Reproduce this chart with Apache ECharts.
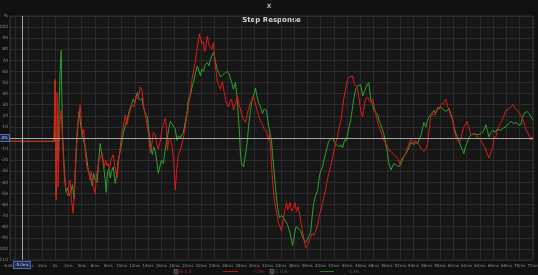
<!DOCTYPE html>
<html><head><meta charset="utf-8">
<script src="https://cdn.jsdelivr.net/npm/echarts@6/dist/echarts.min.js"></script>
<style>html,body{margin:0;padding:0;background:#111111;}#c{width:538px;height:275px;}</style>
</head><body><div id="c"></div>
<script>
// time (ms), value (%)
const redSeries = [[-6.8,-3],[-0.2,-3],[-0.1,20],[0,53],[0.08,-10],[0.15,-56],[0.3,41],[0.38,10],[0.45,-44],[0.6,-5],[0.75,15],[0.9,25],[1.06,25],[1.2,-10],[1.4,-35],[1.66,-48],[1.96,-52],[2.1,-40],[2.26,-38],[2.45,-55],[2.72,-68],[2.9,-50],[3.1,-20],[3.3,5],[3.5,18],[3.77,30],[3.95,15],[4.1,2],[4.3,8],[4.53,-11],[4.75,-25],[5.0,-30],[5.28,-38],[5.45,-30],[5.7,-42],[6.04,-50],[6.2,-35],[6.4,-28],[6.6,-20],[6.8,-18],[7.09,-14],[7.25,-22],[7.4,-26],[7.6,-20],[7.8,-25],[8.0,-23],[8.2,-28],[8.4,-20],[8.75,-15],[8.9,-22],[9.06,-28],[9.36,-36],[9.55,-22],[9.81,-8],[10.0,2],[10.2,8],[10.57,21],[10.8,12],[11.02,18],[11.3,25],[11.6,30],[11.9,28],[12.2,38],[12.5,35],[12.83,46],[13.13,42],[13.3,30],[13.6,20],[13.9,10],[14.1,2],[14.34,-13],[14.55,-6],[14.8,5],[15.09,3],[15.3,-5],[15.55,-10],[15.8,-4],[16.1,8],[16.3,12],[16.6,18],[16.8,8],[16.91,-11],[17.1,-2],[17.36,0],[17.66,-9],[17.9,-25],[18.11,-47],[18.3,-30],[18.57,-15],[18.87,-11],[19.1,-5],[19.32,0],[19.62,10],[19.9,22],[20.1,30],[20.38,41],[20.6,52],[20.83,60],[21.13,69],[21.43,82],[21.74,94],[21.89,90],[22.1,85],[22.34,87],[22.5,78],[22.64,80],[22.94,92],[23.15,84],[23.4,83],[23.6,80],[23.85,86],[24.0,75],[24.15,65],[24.3,58],[24.45,50],[24.7,47],[24.91,44],[25.05,48],[25.21,51],[25.45,42],[25.66,35],[25.9,30],[26.11,28],[26.3,32],[26.57,35],[26.75,30],[26.87,25],[27.2,32],[27.47,38],[27.7,30],[28.0,24],[28.23,19],[28.45,16],[28.68,14],[28.9,20],[29.13,26],[29.43,32],[29.65,35],[29.89,37],[30.1,33],[30.3,28],[30.64,20],[30.9,16],[31.25,12],[31.5,8],[31.85,6],[32.15,-2],[32.3,4],[32.45,-10],[32.75,-38],[33.0,-55],[33.21,-62],[33.45,-70],[33.66,-77],[33.9,-80],[34.11,-84],[34.4,-72],[34.72,-62],[34.87,-58],[35.05,-65],[35.17,-63],[35.4,-58],[35.62,-66],[35.92,-63],[36.1,-58],[36.38,-66],[36.6,-62],[36.83,-68],[37.0,-75],[37.28,-84],[37.5,-92],[37.74,-99],[38.0,-97],[38.19,-95],[38.49,-90],[38.7,-86],[38.94,-88],[39.25,-84],[39.55,-78],[39.8,-70],[40.0,-66],[40.3,-58],[40.75,-47],[41.0,-38],[41.21,-32],[41.51,-26],[41.7,-20],[42.0,-12],[42.3,-4],[42.57,2],[42.72,8],[43.0,14],[43.2,22],[43.47,35],[43.7,42],[44.08,53],[44.3,55],[44.53,54],[44.83,56],[44.98,50],[45.28,47],[45.58,44],[45.8,35],[46.04,25],[46.34,19],[46.64,32],[46.8,35],[47.09,37],[47.3,34],[47.55,32],[47.85,35],[48.1,28],[48.3,22],[48.6,14],[48.8,10],[49.06,6],[49.3,2],[49.51,-2],[49.96,-6],[50.26,-11],[50.6,-12],[50.87,-14],[51.2,-16],[51.62,-18],[51.92,-24],[52.1,-20],[52.38,-20],[52.6,-16],[52.83,-14],[53.0,-10],[53.28,-6],[53.58,0],[53.8,-3],[54.04,-5],[54.25,-2],[54.49,-2],[54.8,-6],[55.09,-9],[55.3,-10],[55.55,-12],[55.8,-10],[56.0,-8],[56.15,-3],[56.3,4],[56.45,12],[56.6,19],[56.91,22],[57.2,20],[57.45,25],[57.66,28],[57.9,26],[58.1,30],[58.57,32],[58.87,35],[59.17,28],[59.4,24],[59.62,20],[59.92,16],[60.1,8],[60.38,1],[60.6,-2],[60.83,-4],[61.1,-2],[61.3,4],[61.58,10],[61.8,12],[62.04,15],[62.34,10],[62.5,6],[62.64,3],[62.9,4],[63.09,4],[63.4,2],[63.85,0],[64.15,-2],[64.45,-6],[64.7,-8],[64.91,-11],[65.1,-14],[65.36,-18],[65.6,-14],[65.75,-11],[65.96,-8],[66.11,1],[66.42,1],[66.72,9],[67.0,12],[67.17,14],[67.5,18],[67.92,25],[68.3,26],[68.68,28],[68.98,30],[69.3,27],[69.74,24],[70.0,22],[70.19,21],[70.4,18],[70.64,14],[70.9,8],[71.25,4],[71.5,1],[71.7,-2],[71.85,1],[72.0,0]];
const greenSeries = [[-6.8,-3],[-0.1,-3],[0,52],[0.08,10],[0.15,-52],[0.3,0],[0.45,-20],[0.6,30],[0.75,60],[0.91,79],[1.0,40],[1.1,5],[1.3,-20],[1.51,-40],[1.66,-49],[1.9,-45],[2.1,-52],[2.4,-48],[2.6,-42],[2.87,-55],[3.0,-35],[3.2,-10],[3.4,10],[3.62,24],[3.8,15],[4.0,5],[4.2,0],[4.53,-8],[4.8,-20],[5.0,-30],[5.28,-33],[5.58,-43],[5.8,-32],[6.04,-38],[6.34,-40],[6.5,-25],[6.79,-5],[6.95,-12],[7.2,-20],[7.4,-30],[7.55,-38],[7.7,-49],[7.9,-30],[8.1,-28],[8.3,-36],[8.5,-30],[8.75,-26],[9.06,-41],[9.3,-32],[9.5,-20],[9.81,-12],[10.11,-2],[10.3,5],[10.6,12],[10.9,18],[11.2,25],[11.5,30],[11.77,35],[12.0,32],[12.38,41],[12.6,36],[12.9,34],[13.1,36],[13.28,28],[13.6,22],[13.89,19],[14.1,8],[14.34,-5],[14.64,-15],[14.85,-8],[15.09,-12],[15.3,-20],[15.55,-32],[15.8,-25],[16.0,-20],[16.3,-23],[16.6,-10],[16.9,0],[17.1,8],[17.36,15],[17.6,14],[17.9,10],[18.11,8],[18.35,-2],[18.6,2],[18.87,0],[19.1,3],[19.32,5],[19.62,15],[19.92,25],[20.08,35],[20.38,38],[20.6,45],[20.83,50],[21.13,58],[21.43,65],[21.7,60],[21.89,56],[22.1,62],[22.34,60],[22.6,66],[22.94,68],[23.2,65],[23.4,71],[23.6,74],[23.85,77],[24.0,74],[24.15,69],[24.4,62],[24.7,58],[24.91,55],[25.21,56],[25.5,58],[25.96,60],[26.2,58],[26.42,57],[26.6,50],[26.87,44],[27.17,50],[27.4,38],[27.6,20],[27.8,2],[27.92,-15],[28.1,-23],[28.38,-26],[28.6,-18],[28.85,-8],[29.0,0],[29.13,10],[29.43,25],[29.7,35],[30.0,40],[30.19,45],[30.4,38],[30.64,32],[30.94,28],[31.25,22],[31.5,26],[31.85,25],[32.0,18],[32.2,10],[32.45,2],[32.6,-2],[32.75,-15],[33.0,-30],[33.21,-45],[33.5,-62],[33.81,-72],[34.1,-70],[34.42,-72],[34.72,-72],[35.0,-78],[35.32,-84],[35.55,-90],[35.77,-97],[36.0,-90],[36.08,-86],[36.3,-80],[36.53,-79],[36.75,-82],[36.98,-84],[37.2,-88],[37.5,-92],[37.74,-94],[38.0,-92],[38.2,-89],[38.49,-85],[38.7,-72],[38.94,-59],[39.25,-52],[39.55,-47],[39.8,-35],[40.0,-30],[40.3,-26],[40.5,-20],[40.75,-14],[41.0,-8],[41.21,-3],[41.5,-1],[41.81,0],[42.1,-4],[42.4,-6],[42.72,-8],[43.0,-6],[43.32,-9],[43.6,-2],[43.92,-2],[44.2,8],[44.53,16],[44.83,28],[44.98,35],[45.28,44],[45.58,47],[46.04,48],[46.34,38],[46.6,42],[46.94,47],[47.25,50],[47.55,35],[47.85,30],[48.0,25],[48.3,23],[48.6,21],[48.8,16],[49.06,12],[49.3,8],[49.51,4],[49.7,-2],[49.81,-6],[50.0,-10],[50.26,-22],[50.57,-29],[50.87,-25],[51.02,-23],[51.3,-24],[51.77,-26],[52.08,-24],[52.3,-20],[52.53,-17],[52.83,-14],[53.13,-11],[53.35,-8],[53.58,-4],[53.8,-5],[54.04,-6],[54.3,-4],[54.64,-5],[54.85,-1],[55.09,2],[55.3,7],[55.55,14],[55.85,10],[56.1,16],[56.4,20],[56.7,22],[57.06,25],[57.3,22],[57.66,26],[58.11,28],[58.4,26],[58.8,24],[59.17,25],[59.32,27],[59.6,22],[59.92,16],[60.1,10],[60.38,4],[60.6,1],[60.83,-2],[61.13,-8],[61.4,-11],[61.58,-14],[61.8,-8],[62.04,-5],[62.34,0],[62.64,3],[62.9,2],[63.2,4],[63.4,4],[63.7,3],[63.85,2],[64.15,4],[64.5,6],[64.91,12],[65.15,6],[65.36,1],[65.66,5],[65.96,7],[66.3,5],[66.6,8],[67.17,7],[67.5,9],[67.92,10],[68.3,13],[68.68,15],[69.13,13],[69.5,14],[69.74,12],[70.19,12],[70.4,18],[70.64,22],[71.09,24],[71.4,22],[71.7,19],[72.0,16]];
const xMin = -6.8, xMax = 72;
const yMin = -110, yMax = 110, yStep = 10;
const cursorTime = -5.0, cursorValue = 0;
const titleText = 'Step Response';
const redLegend = ['R 0.4', '-12%'];
const greenLegend = ['L 0.8', '-13%'];

const chart = echarts.init(document.getElementById('c'), null, {renderer: 'canvas'});
const lblFont = 'DejaVu Sans';
chart.setOption({
  backgroundColor: '#111111',
  animation: false,
  grid: {left: 10, right: 5, top: 16, bottom: 15, containLabel: false, outerBoundsMode: 'none', show: true, backgroundColor: '#161616', borderColor: '#2c2c2c', borderWidth: 1},
  xAxis: {
    type: 'value', min: xMin, max: xMax, splitNumber: 39,
    axisLine: {show: false}, axisTick: {show: false},
    axisLabel: {fontSize: 4, color: '#8c8c8c', margin: 4, fontFamily: lblFont, showMinLabel: true, showMaxLabel: true, hideOverlap: false,
      formatter: v => v === 0 ? '0s' : (Number.isInteger(v) ? v + 'ms' : v.toFixed(1) + 'ms')},
    splitLine: {show: true, lineStyle: {color: '#2a2a2a', width: 1}}
  },
  yAxis: {
    type: 'value', min: yMin, max: yMax, interval: yStep,
    axisLine: {show: false}, axisTick: {show: false},
    axisLabel: {fontSize: 4.5, color: '#8c8c8c', margin: 2, fontFamily: lblFont, formatter: v => v === yMax ? '%' : String(v)},
    splitLine: {show: true, lineStyle: {color: '#2a2a2a', width: 1}}
  },
  series: [
    {type: 'line', name: 'L', data: greenSeries, showSymbol: false, symbol: 'none', lineStyle: {color: '#2ea02e', width: 1}, z: 2},
    {type: 'line', name: 'R', data: redSeries, showSymbol: false, symbol: 'none', lineStyle: {color: '#dc1a1a', width: 1}, z: 3,
      markLine: {silent: true, symbol: ['none', 'none'], animation: false,
        lineStyle: {color: '#a6a6a6', type: 'solid', width: 1},
        label: {fontSize: 4, color: '#c8d4f0', backgroundColor: '#1a2a4c', borderColor: '#4d6fb0', borderWidth: 1, padding: [1, 1], fontFamily: lblFont},
        data: [
          {yAxis: cursorValue, label: {position: 'start', formatter: '0.0%', distance: 1}},
          {xAxis: cursorTime, label: {position: 'start', formatter: '-5.0ms', distance: 2}}
        ]}}
  ],
  graphic: [
    {type: 'text', x: 271.5, y: 20, style: {text: titleText, fill: '#d8d8d8', font: 'bold 7px "DejaVu Sans"', textAlign: 'center', textVerticalAlign: 'middle'}},
    {type: 'text', x: 269, y: 6, style: {text: 'X', fill: '#bbbbbb', font: 'bold 6px "DejaVu Sans"', textAlign: 'center', textVerticalAlign: 'middle'}},
    {type: 'rect', shape: {x: 174, y: 269.5, width: 4, height: 4}, style: {fill: '#3a3a3a', stroke: '#888', lineWidth: 0.5}},
    {type: 'text', x: 180, y: 271.5, style: {text: redLegend[0], fill: '#c41a1a', font: '4.5px "DejaVu Sans"', textVerticalAlign: 'middle'}},
    {type: 'line', shape: {x1: 223, y1: 271.5, x2: 238, y2: 271.5}, style: {stroke: '#b01818', lineWidth: 1}},
    {type: 'text', x: 253, y: 271.5, style: {text: redLegend[1], fill: '#c41a1a', font: '4.5px "DejaVu Sans"', textVerticalAlign: 'middle'}},
    {type: 'rect', shape: {x: 270, y: 269.5, width: 4, height: 4}, style: {fill: '#3a3a3a', stroke: '#888', lineWidth: 0.5}},
    {type: 'text', x: 276, y: 271.5, style: {text: greenLegend[0], fill: '#2a8a2a', font: '4.5px "DejaVu Sans"', textVerticalAlign: 'middle'}},
    {type: 'line', shape: {x1: 320, y1: 271.5, x2: 334, y2: 271.5}, style: {stroke: '#227a22', lineWidth: 1}},
    {type: 'text', x: 348, y: 271.5, style: {text: greenLegend[1], fill: '#2a8a2a', font: '4.5px "DejaVu Sans"', textVerticalAlign: 'middle'}}
  ]
});
</script></body></html>
